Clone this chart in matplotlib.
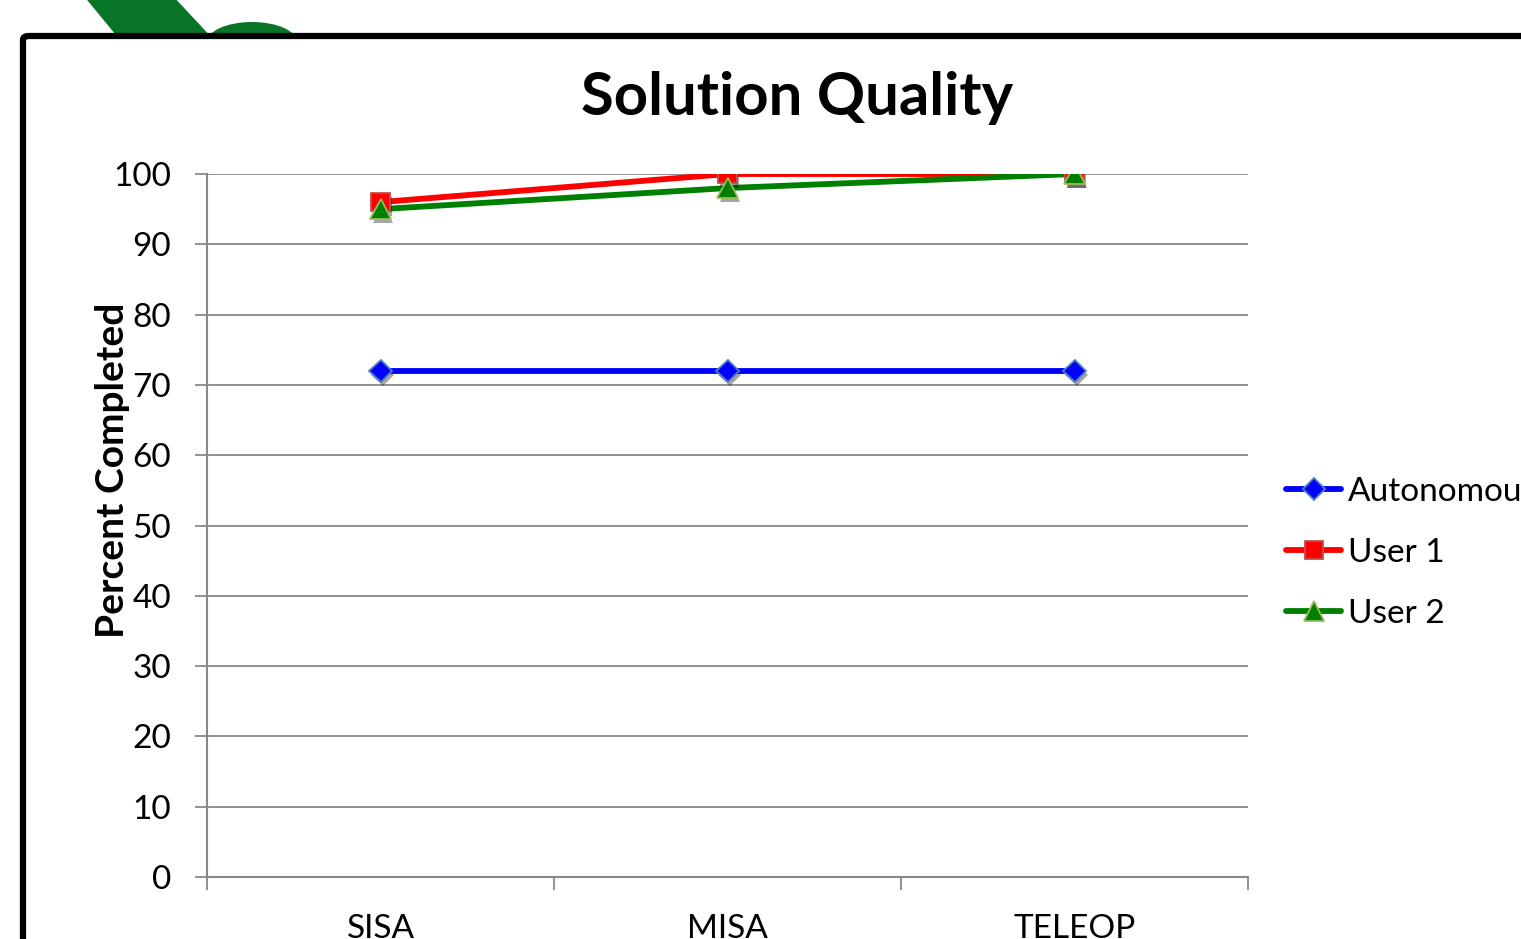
import matplotlib
matplotlib.use("Agg")
import matplotlib.pyplot as plt
from matplotlib.patches import Polygon, Ellipse, FancyBboxPatch
import matplotlib.patheffects as pe

plt.rcParams["font.family"] = ["Lato", "DejaVu Sans"]

# Data
categories = ["SISA", "MISA", "TELEOP"]
autonomous = [72, 72, 72]
user1 = [96, 100, 100]
user2 = [95, 98, 100]
y_ticks = [0, 10, 20, 30, 40, 50, 60, 70, 80, 90, 100]

W, H = 1521, 939
fig = plt.figure(figsize=(W / 100, H / 100), dpi=100)
fig.patch.set_facecolor("white")


def px(x, y):
    """Pixel position (origin top-left) to figure fraction."""
    return (x / W, 1 - y / H)


# Green logo fragment peeking above the frame
band = Polygon([px(83, -5), px(172, -5), px(214, 40), px(120, 40)],
               closed=True, transform=fig.transFigure,
               facecolor="#077428", edgecolor="none", zorder=0)
fig.patches.append(band)
dome = Ellipse(px(252, 42), 90 / W, 40 / H, transform=fig.transFigure,
               facecolor="#077428", edgecolor="none", zorder=0)
fig.patches.append(dome)

# Slide frame around the chart
frame = FancyBboxPatch(px(23, 1000), (1600 - 23) / W, (1000 - 36) / H,
                       boxstyle="round,pad=0,rounding_size=0.004",
                       transform=fig.transFigure, facecolor="white",
                       edgecolor="black", linewidth=4.5, zorder=1)
fig.patches.append(frame)

ax = fig.add_axes([207 / W, 1 - 877 / H, (1248 - 207) / W, (877 - 174) / H])
ax.set_zorder(2)
ax.patch.set_alpha(0)

x = list(range(len(categories)))
shadow = [pe.SimplePatchShadow(offset=(1.5, -3), shadow_rgbFace="#000000",
                               alpha=0.35), pe.Normal()]

series = [
    ("Autonomous", autonomous, "#0000FF", "D", 11.5, "#4F81BD"),
    ("User 1", user1, "#FF0000", "s", 13.5, "#C0504D"),
    ("User 2", user2, "#008000", "^", 14.5, "#9BBB59"),
]
for label, vals, color, marker, ms, edge in series:
    ax.plot(x, vals, color=color, linewidth=4.2, solid_capstyle="round",
            zorder=3)
    ax.plot(x, vals, linestyle="none", marker=marker, markersize=ms,
            markerfacecolor=color, markeredgecolor=edge,
            markeredgewidth=1.3, zorder=4, path_effects=shadow)
    ax.plot([], [], color=color, linewidth=4.2, solid_capstyle="round",
            marker=marker, markersize=ms * 0.95, markerfacecolor=color,
            markeredgecolor=edge, markeredgewidth=1.3, label=label)

ax.set_xlim(-0.5, 2.5)
ax.set_ylim(0, 100)
ax.set_yticks(y_ticks)
ax.set_xticks(x)
ax.set_xticklabels(categories)
ax.set_xticks([-0.5, 0.5, 1.5, 2.5], minor=True)
ax.tick_params(axis="x", which="major", length=0, pad=27, labelsize=24)
ax.tick_params(axis="x", which="minor", length=9, width=1.3,
               color="#888888", direction="out")
ax.tick_params(axis="y", length=9, width=1.3, color="#888888",
               direction="out", pad=17, labelsize=24)

ax.grid(axis="y", color="#888888", linewidth=1.3)
ax.set_axisbelow(True)
for side in ("top", "right"):
    ax.spines[side].set_visible(False)
for side in ("left", "bottom"):
    ax.spines[side].set_color("#888888")
    ax.spines[side].set_linewidth(1.5)

ax.set_ylabel("Percent Completed", fontsize=28, fontweight="bold")
ax.yaxis.set_label_coords(-0.074, 0.579, transform=ax.transAxes)

fig.text(797 / W, 1 - 98 / H, "Solution Quality", fontsize=43,
         fontweight="bold", ha="center", va="center", zorder=3)

leg = fig.legend(loc="upper left", bbox_to_anchor=px(1286, 477),
                 frameon=False, fontsize=24, handlelength=1.65,
                 handletextpad=0.2, labelspacing=0.93, borderpad=0,
                 borderaxespad=0)
leg.set_zorder(3)

fig.savefig("out.png", dpi=100, facecolor="white")
